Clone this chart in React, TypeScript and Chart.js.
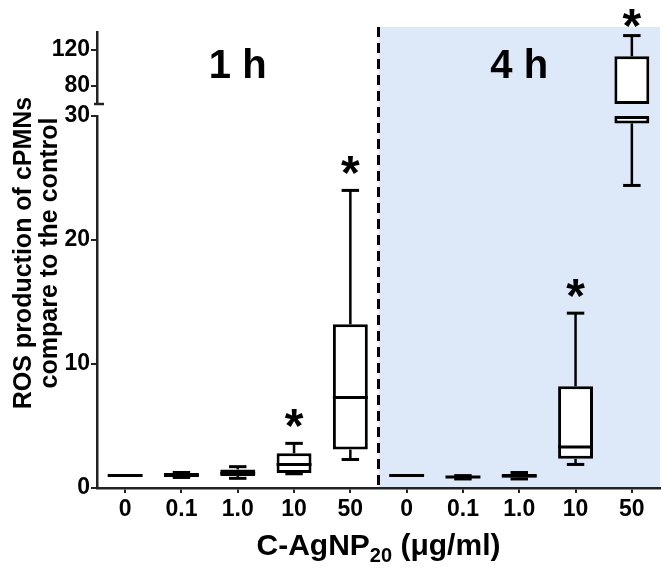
import React, { useEffect, useRef } from 'react';
import { Chart, registerables } from 'chart.js';

Chart.register(...registerables);

// ---------- data ----------
const categories = ['0', '0.1', '1.0', '10', '50', '0', '0.1', '1.0', '10', '50'];
const groupLabels = ['1 h', '4 h'];
const mins = [1.0, 0.85, 0.78, 1.15, 2.3, 1.0, 0.73, 0.73, 1.9, 24.4];
const q1s = [1.0, 0.9, 0.97, 1.2, 3.1, 1.0, 0.85, 0.85, 2.35, 29.4];
const medians = [1.0, 1.0, 1.18, 1.9, 7.3, 1.0, 0.88, 0.97, 3.3, 45];
const q3s = [1.0, 1.2, 1.5, 2.8, 13.2, 1.0, 0.93, 1.13, 8.2, 113];
const maxs = [1.0, 1.25, 1.72, 3.6, 24.0, 1.0, 1.0, 1.25, 14.1, 136];
const significant = [false, false, false, true, true, false, false, false, true, true];
const lowRange = [0, 30];
const highRange = [60, 140];
const lowTicks = [0, 10, 20, 30];
const highTicks = [80, 120];
const yTitleLines = ['ROS production of cPMNs', 'compare to the control'];
const xTitleParts = ['C-AgNP', '20', ' (μg/ml)'];

const FONT = '"Liberation Sans", Arial, sans-serif';
const BLUE = '#dde9f8';
const AXIS = '#222';

const clampRange = (lo: number, hi: number, r: number[]) => {
  if (hi < r[0] || lo > r[1]) return null;
  return [Math.max(lo, r[0]), Math.min(hi, r[1])];
};
const inRange = (v: number, r: number[]) => v >= r[0] && v <= r[1];

const boxPlugin = {
  id: 'boxExtras',
  beforeDraw(chart: any) {
    const { ctx, chartArea, scales } = chart;
    const x = scales.x;
    const split = (x.getPixelForValue(4) + x.getPixelForValue(5)) / 2;
    ctx.save();
    ctx.fillStyle = BLUE;
    ctx.fillRect(split, chartArea.top - 5, chartArea.right - split, chartArea.bottom - chartArea.top + 5);
    ctx.restore();
  },
  afterDatasetsDraw(chart: any) {
    const { ctx, scales } = chart;
    const x = scales.x;
    const meta = chart.getDatasetMeta(0);
    const panels = [
      { s: scales.yLow, r: lowRange },
      { s: scales.yHigh, r: highRange },
    ];
    ctx.save();
    ctx.strokeStyle = '#000';
    ctx.lineCap = 'butt';
    const line = (x1: number, y1: number, x2: number, y2: number, w: number) => {
      ctx.lineWidth = w;
      ctx.beginPath();
      ctx.moveTo(x1, y1);
      ctx.lineTo(x2, y2);
      ctx.stroke();
    };
    for (const { s, r } of panels) {
      for (let i = 0; i < categories.length; i++) {
        const cx = x.getPixelForValue(i);
        const half = meta.data[i].width / 2;
        const capHalf = half / 2;
        const up = clampRange(q3s[i], maxs[i], r);
        if (up && up[1] > up[0]) {
          line(cx, s.getPixelForValue(up[0]), cx, s.getPixelForValue(up[1]), 2.5);
        }
        if (inRange(maxs[i], r) && maxs[i] > q3s[i]) {
          const py = s.getPixelForValue(maxs[i]);
          line(cx - capHalf, py, cx + capHalf, py, 3);
        }
        const dn = clampRange(mins[i], q1s[i], r);
        if (dn && dn[1] > dn[0]) {
          line(cx, s.getPixelForValue(dn[0]), cx, s.getPixelForValue(dn[1]), 2.5);
        }
        if (inRange(mins[i], r) && mins[i] < q1s[i]) {
          const py = s.getPixelForValue(mins[i]);
          line(cx - capHalf, py, cx + capHalf, py, 3);
        }
        if (inRange(medians[i], r)) {
          const py = s.getPixelForValue(medians[i]);
          line(cx - half, py, cx + half, py, 3);
        }
      }
    }
    ctx.restore();
  },
  afterDraw(chart: any) {
    const { ctx, chartArea, scales } = chart;
    const x = scales.x;
    const pix = (v: number) =>
      inRange(v, lowRange) ? scales.yLow.getPixelForValue(v) : scales.yHigh.getPixelForValue(v);
    ctx.save();
    // axis break end mark on the upper segment
    const yb = scales.yHigh.getPixelForValue(highRange[0]);
    ctx.strokeStyle = AXIS;
    ctx.lineWidth = 2.5;
    ctx.beginPath();
    ctx.moveTo(chartArea.left - 3, yb);
    ctx.lineTo(chartArea.left + 7, yb);
    ctx.stroke();

    // dashed divider
    const split = (x.getPixelForValue(4) + x.getPixelForValue(5)) / 2;
    ctx.strokeStyle = '#000';
    ctx.lineWidth = 3;
    ctx.setLineDash([10, 6]);
    ctx.beginPath();
    ctx.moveTo(split, chartArea.top - 5);
    ctx.lineTo(split, chartArea.bottom);
    ctx.stroke();
    ctx.setLineDash([]);

    ctx.fillStyle = '#000';
    // stars
    ctx.font = `bold 48px ${FONT}`;
    ctx.textAlign = 'center';
    ctx.textBaseline = 'alphabetic';
    for (let i = 0; i < categories.length; i++) {
      if (!significant[i]) continue;
      const cy = Math.max(pix(maxs[i]) - 28, chartArea.top - 17);
      ctx.fillText('*', x.getPixelForValue(i), cy + 27);
    }
    // group labels
    ctx.font = `bold 40px ${FONT}`;
    ctx.fillText(groupLabels[0], x.getPixelForValue(2), chartArea.top + 46);
    ctx.fillText(groupLabels[1], x.getPixelForValue(7), chartArea.top + 46);

    // y title
    ctx.font = `bold 25px ${FONT}`;
    const cyT = (chartArea.top + chartArea.bottom) / 2 - 7;
    ctx.save();
    ctx.translate(31, cyT);
    ctx.rotate(-Math.PI / 2);
    ctx.fillText(yTitleLines[0], 0, 0);
    ctx.restore();
    ctx.save();
    ctx.translate(57, cyT);
    ctx.rotate(-Math.PI / 2);
    ctx.fillText(yTitleLines[1], 0, 0);
    ctx.restore();

    // x title with subscript
    const big = `bold 30px ${FONT}`;
    const small = `bold 20px ${FONT}`;
    ctx.font = big;
    const w0 = ctx.measureText(xTitleParts[0]).width;
    const w2 = ctx.measureText(xTitleParts[2]).width;
    ctx.font = small;
    const w1 = ctx.measureText(xTitleParts[1]).width;
    const total = w0 + w1 + w2;
    const cxT = (chartArea.left + chartArea.right) / 2;
    let tx = cxT - total / 2;
    const base = chartArea.bottom + 67;
    ctx.textAlign = 'left';
    ctx.font = big;
    ctx.fillText(xTitleParts[0], tx, base);
    tx += w0;
    ctx.font = small;
    ctx.fillText(xTitleParts[1], tx, base + 7);
    tx += w1;
    ctx.font = big;
    ctx.fillText(xTitleParts[2], tx, base);
    ctx.restore();
  },
};

const tickFont = { family: FONT, size: 23, weight: 'bold' as const };

export default function App() {
  const ref = useRef<HTMLCanvasElement | null>(null);
  useEffect(() => {
    if (!ref.current) return;
    const lowData = categories.map((_, i) => clampRange(q1s[i], q3s[i], lowRange));
    const highData = categories.map((_, i) => clampRange(q1s[i], q3s[i], highRange));
    const barStyle = {
      backgroundColor: '#ffffff',
      borderColor: '#000000',
      borderWidth: 3,
      borderSkipped: false as const,
      barPercentage: 0.62,
      categoryPercentage: 1,
      grouped: false,
    };
    const chart = new Chart(ref.current, {
      type: 'bar',
      data: {
        labels: categories,
        datasets: [
          { label: 'low', data: lowData as any, yAxisID: 'yLow', ...barStyle },
          { label: 'high', data: highData as any, yAxisID: 'yHigh', ...barStyle },
        ],
      },
      options: {
        animation: false,
        responsive: true,
        maintainAspectRatio: false,
        layout: { padding: { left: 0, right: 6, top: 32, bottom: 0 } },
        plugins: { legend: { display: false }, tooltip: { enabled: false } },
        scales: {
          x: {
            type: 'category',
            offset: true,
            grid: { display: true, drawOnChartArea: false, drawTicks: true, tickLength: 5, offset: false, color: AXIS, lineWidth: 2 },
            border: { display: true, color: AXIS, width: 2.5 },
            ticks: { font: tickFont, color: '#000', padding: 3, maxRotation: 0, autoSkip: false },
            afterFit: (s: any) => { s.height = 80; },
          },
          yLow: {
            type: 'linear',
            position: 'left',
            stack: 'y',
            stackWeight: 372,
            min: lowRange[0],
            max: lowRange[1],
            afterBuildTicks: (s: any) => { s.ticks = lowTicks.map((v) => ({ value: v })); },
            grid: { drawOnChartArea: false, drawTicks: true, tickLength: 6, color: AXIS, lineWidth: 2 },
            border: { display: true, color: AXIS, width: 2.5 },
            ticks: { font: tickFont, color: '#000', padding: 1 },
            afterFit: (s: any) => { s.width = 97; },
          },
          yGap: {
            type: 'linear',
            position: 'left',
            stack: 'y',
            stackWeight: 12,
            grid: { display: false },
            border: { display: false },
            ticks: { display: false },
            afterFit: (s: any) => { s.width = 97; },
          },
          yHigh: {
            type: 'linear',
            position: 'left',
            stack: 'y',
            stackWeight: 72,
            min: highRange[0],
            max: highRange[1],
            afterBuildTicks: (s: any) => { s.ticks = highTicks.map((v) => ({ value: v })); },
            grid: { drawOnChartArea: false, drawTicks: true, tickLength: 6, color: AXIS, lineWidth: 2 },
            border: { display: true, color: AXIS, width: 2.5 },
            ticks: { font: tickFont, color: '#000', padding: 1 },
            afterFit: (s: any) => { s.width = 97; },
          },
        } as any,
      },
      plugins: [boxPlugin],
    });
    return () => chart.destroy();
  }, []);
  return (
    <div style={{ position: 'fixed', left: 0, top: 0, width: 666, height: 568, background: '#fff' }}>
      <canvas ref={ref} />
    </div>
  );
}
